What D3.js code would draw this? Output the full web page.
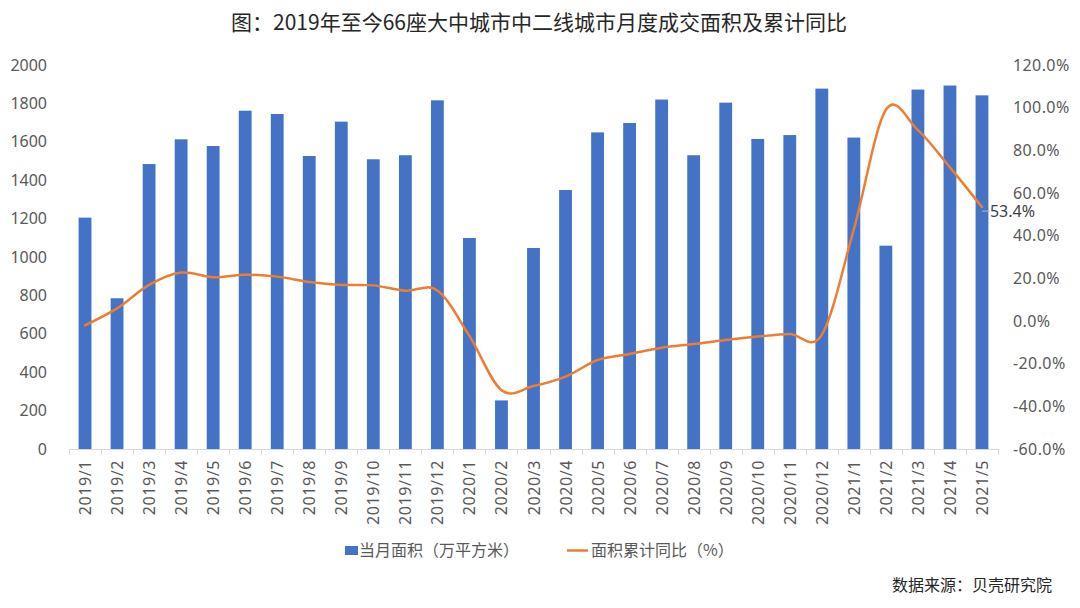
<!DOCTYPE html>
<html>
<head>
<meta charset="utf-8">
<script src="https://cdn.jsdelivr.net/npm/d3@7"></script>
<style>
  html, body { margin: 0; padding: 0; background: #ffffff; }
  svg { display: block; font-family: "Noto Sans CJK SC", "Noto Sans", sans-serif; }
</style>
</head>
<body>
<svg id="chart" width="1080" height="608"></svg>
<script>
const categories = ["2019/1","2019/2","2019/3","2019/4","2019/5","2019/6","2019/7","2019/8","2019/9","2019/10","2019/11","2019/12",
  "2020/1","2020/2","2020/3","2020/4","2020/5","2020/6","2020/7","2020/8","2020/9","2020/10","2020/11","2020/12",
  "2021/1","2021/2","2021/3","2021/4","2021/5"];
const monthlyArea = [1205, 785, 1484, 1613, 1578, 1762, 1745, 1526, 1705, 1509, 1530, 1816,
  1099, 253, 1047, 1349, 1649, 1698, 1820, 1530, 1804, 1615, 1635, 1877,
  1622, 1059, 1872, 1893, 1842];
const cumulativeYoY = [-2.0, 5.9, 16.9, 22.7, 20.5, 21.7, 20.8, 18.3, 16.9, 16.7, 14.2, 14.3,
  -7.0, -32.5, -30.5, -26.1, -18.3, -15.5, -12.5, -10.8, -8.9, -7.3, -6.1, -6.5,
  43.0, 99.0, 89.5, 72.0, 53.4];
const leftTicks = [0, 200, 400, 600, 800, 1000, 1200, 1400, 1600, 1800, 2000];
const rightTicks = [-60, -40, -20, 0, 20, 40, 60, 80, 100, 120];
const titleText = "图：2019年至今66座大中城市中二线城市月度成交面积及累计同比";
const legendBar = "当月面积（万平方米）";
const legendLine = "面积累计同比（%）";
const sourceText = "数据来源：贝壳研究院";

(function () {
const svg = d3.select("#chart");
const pLeft = 69, pRight = 998, pTop = 65, pBottom = 449;
const barColor = "#4472C4", lineColor = "#ED7D31", textColor = "#595959";

const x = d3.scaleBand().domain(categories).range([pLeft, pRight]).paddingInner(0.6).paddingOuter(0.3);
const yL = d3.scaleLinear().domain([0, 2000]).range([pBottom, pTop]);
const yR = d3.scaleLinear().domain([-60, 120]).range([pBottom, pTop]);

// Title
svg.append("text").attr("x", 539).attr("y", 30).attr("text-anchor", "middle")
  .attr("font-size", 21).attr("fill", "#262626").text(titleText);

// Bars
svg.append("g").selectAll("rect").data(monthlyArea).join("rect")
  .attr("x", (d, i) => x(categories[i]))
  .attr("y", d => yL(d))
  .attr("width", x.bandwidth())
  .attr("height", d => yL(0) - yL(d))
  .attr("fill", barColor);

// Category axis
const step = x.step();
const axisG = svg.append("g");
axisG.append("line").attr("x1", pLeft).attr("x2", pRight).attr("y1", pBottom + 0.5).attr("y2", pBottom + 0.5)
  .attr("stroke", "#d9d9d9").attr("stroke-width", 1);
const boundaries = d3.range(categories.length + 1).map(i => pLeft + i * step);
axisG.selectAll("line.tick").data(boundaries).join("line").attr("class", "tick")
  .attr("x1", d => Math.round(d) + 0.5).attr("x2", d => Math.round(d) + 0.5)
  .attr("y1", pBottom).attr("y2", pBottom + 6)
  .attr("stroke", "#d9d9d9");
axisG.selectAll("text").data(categories).join("text")
  .attr("transform", d => `translate(${x(d) + x.bandwidth() / 2 + 6},${pBottom + 11}) rotate(-90)`)
  .attr("text-anchor", "end")
  .attr("font-family", "'Noto Sans', sans-serif")
  .attr("font-size", 16).attr("letter-spacing", 0.6)
  .attr("fill", textColor).text(d => d);

// Left axis labels
const leftAxis = d3.axisLeft(yL).tickValues(leftTicks).tickSize(0).tickPadding(0).tickFormat(d3.format("d"));
const la = svg.append("g").attr("transform", `translate(47,0)`).call(leftAxis);
la.select(".domain").remove();
la.selectAll("text").attr("font-family", "'Noto Sans', sans-serif").attr("font-size", 16).attr("fill", textColor);

// Right axis labels
const rightAxis = d3.axisRight(yR).tickValues(rightTicks).tickSize(0).tickPadding(0).tickFormat(d => d.toFixed(1) + "%");
const ra = svg.append("g").attr("transform", `translate(1013,0)`).call(rightAxis);
ra.select(".domain").remove();
ra.selectAll("text").attr("font-family", "'Noto Sans', sans-serif").attr("font-size", 16).attr("letter-spacing", 0.4).attr("fill", textColor);

// Line
const line = d3.line()
  .x((d, i) => x(categories[i]) + x.bandwidth() / 2)
  .y(d => yR(d))
  .curve(d3.curveCatmullRom.alpha(0));
svg.append("path").datum(cumulativeYoY)
  .attr("d", line).attr("fill", "none")
  .attr("stroke", lineColor).attr("stroke-width", 2.5)
  .attr("stroke-linejoin", "round").attr("stroke-linecap", "round");

// Data label for last point
const li = categories.length - 1;
const lx = x(categories[li]) + x.bandwidth() / 2, ly = yR(cumulativeYoY[li]);
svg.append("line").attr("x1", lx).attr("x2", lx + 8).attr("y1", ly + 4).attr("y2", ly + 4)
  .attr("stroke", "#a9bcd8").attr("stroke-width", 1);
svg.append("text").attr("x", lx + 8).attr("y", ly + 10)
  .attr("font-family", "'Noto Sans', sans-serif").attr("font-size", 16).attr("fill", "#404040")
  .text(cumulativeYoY[li].toFixed(1) + "%");

// Legend
const lg = svg.append("g");
lg.append("rect").attr("x", 345).attr("y", 546).attr("width", 13).attr("height", 9).attr("fill", barColor);
lg.append("text").attr("x", 359).attr("y", 556).attr("font-size", 16).attr("fill", textColor).text(legendBar);
lg.append("line").attr("x1", 567).attr("x2", 588).attr("y1", 550.5).attr("y2", 550.5)
  .attr("stroke", lineColor).attr("stroke-width", 2.5);
lg.append("text").attr("x", 591).attr("y", 556).attr("font-size", 16).attr("fill", textColor).text(legendLine);

// Source
svg.append("text").attr("x", 1052).attr("y", 591).attr("text-anchor", "end")
  .attr("font-size", 16).attr("fill", "#262626").text(sourceText);
})();
</script>
</body>
</html>
